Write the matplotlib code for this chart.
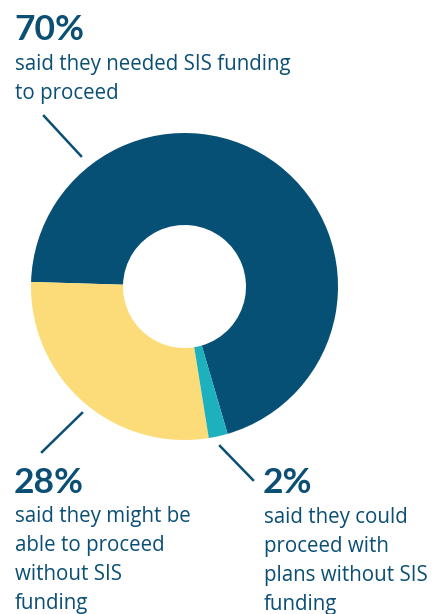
import matplotlib.pyplot as plt

# survey shares
values = [70, 28, 2]
colors = ['#065075', '#FBDC78', '#1CB1BD']
pcts = ['70%', '28%', '2%']
captions = [
    ['said they needed SIS funding', 'to proceed'],
    ['said they might be', 'able to proceed', 'without SIS', 'funding'],
    ['said they could', 'proceed with', 'plans without SIS', 'funding'],
]

W, H = 433, 614
fig = plt.figure(figsize=(W / 100, H / 100), dpi=100)
ax = fig.add_axes([0, 0, 1, 1])

# donut (pixel coordinates, y measured from bottom)
ax.pie(values, colors=colors, startangle=-73.7, counterclock=True,
       radius=153.5, center=(184.5, H - 286.5),
       wedgeprops=dict(width=92, linewidth=0), frame=False)
ax.set_xlim(0, W)
ax.set_ylim(0, H)
ax.axis('off')

txt = '#0B4F75'

# percent headlines: (x, baseline y in image px)
heads = [(14, 40), (14, 493), (263, 493)]
first_base = [70, 522, 523]
for (x, y), p, lines, b in zip(heads, pcts, captions, first_base):
    ax.text(x, H - y, p, fontsize=25.5, fontweight='bold', color=txt,
            family='Lato', va='baseline', ha='left')
    for i, line in enumerate(lines):
        ax.text(x + 1, H - (b + 29 * i), line, fontsize=14.8, color=txt,
                family='Open Sans', va='baseline', ha='left')

# leader lines
leaders = [((44, 116), (81, 156)), ((82, 413), (42, 452)), ((220, 446), (253, 480))]
for (x0, y0), (x1, y1) in leaders:
    ax.plot([x0, x1], [H - y0, H - y1], color=txt, lw=1.8)

plt.savefig('out.png', dpi=100)
